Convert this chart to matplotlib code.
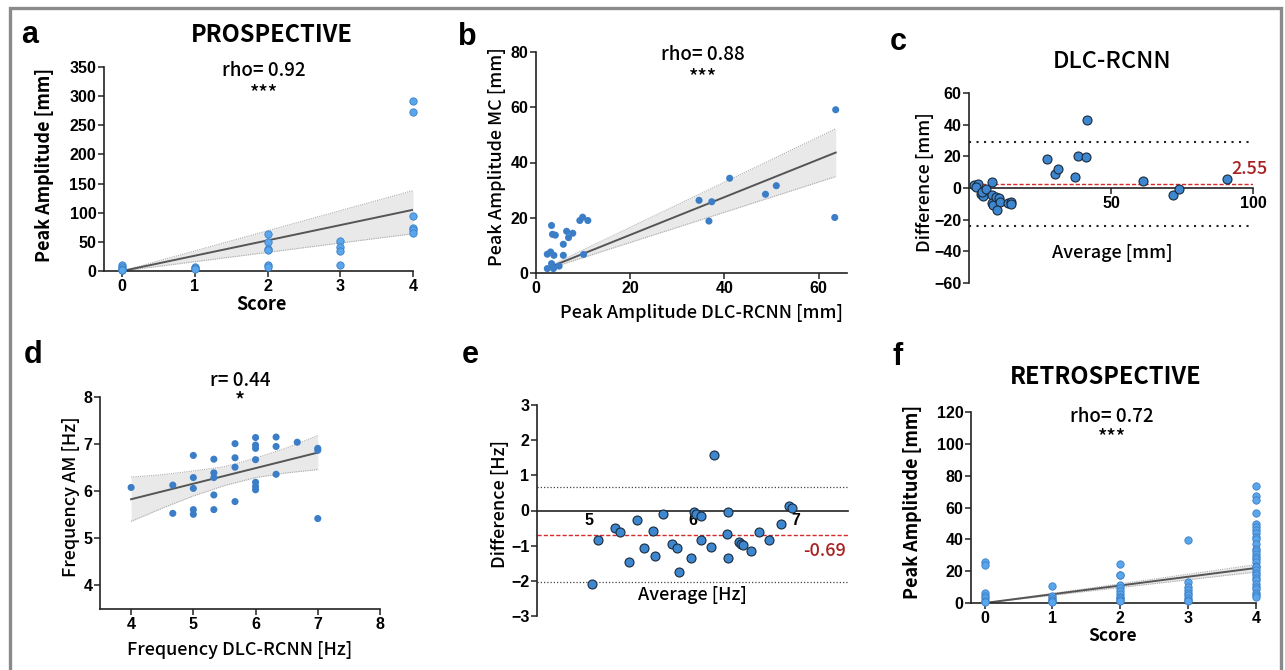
import numpy as np
import matplotlib
matplotlib.use('Agg')
import matplotlib.pyplot as plt
from matplotlib.patches import Rectangle

plt.rcParams['font.family'] = ['Noto Sans CJK JP', 'DejaVu Sans']

W, H = 1285, 670

# a: prospective, score vs peak amplitude
a_score = [0, 0, 0, 0, 0, 1, 1, 1, 2, 2, 2, 2, 2, 2, 3, 3, 3, 3, 4, 4, 4, 4, 4, 4]
a_amp = [10, 7, 4, 2, 1, 7, 5, 4, 63, 49, 37, 36, 10, 7, 51, 41, 35, 11, 292, 272, 94, 74, 70, 65]
a_fit_x = [0, 4]
a_fit_y = [0, 105]
a_lo = [0, 64]
a_hi = [0, 138]

# b: DLC-RCNN vs MC peak amplitude
b_dlc = [2.4, 2.4, 3.1, 3.3, 3.3, 3.5, 3.7, 3.8, 4.1, 4.9, 5.8, 5.8, 6.5, 6.9, 7.8, 9.3, 9.9,
         11.0, 10.1, 34.6, 36.7, 37.3, 41.1, 48.7, 51.0, 63.6, 63.4]
b_mc = [1.6, 6.8, 7.6, 17.2, 3.4, 14.0, 1.6, 6.4, 13.7, 2.5, 10.4, 6.4, 15.1, 12.8, 14.4, 19.0,
        20.2, 19.0, 6.7, 26.3, 18.8, 25.8, 34.3, 28.5, 31.6, 59.1, 20.1]
b_fit_x = [2.0, 63.6]
b_fit_y = [1.5, 43.6]
b_lo = [1.2, 34.9]
b_hi = [1.8, 52.2]

# c: Bland-Altman amplitude
c_avg = [1.8, 3.3, 2.6, 4.1, 4.9, 4.5, 5.9, 8.0, 8.0, 8.2, 8.5, 9.4, 10.6, 10.8, 9.8, 13.9, 14.8,
         14.8, 27.5, 30.2, 31.4, 37.4, 38.4, 41.2, 41.6, 61.3, 71.8, 74.1, 90.7]
c_diff = [2.1, 2.7, 0.4, -3.8, -4.9, -2.3, -0.6, 3.6, -4.4, -9.5, -10.5, -5.9, -6.3, -8.6, -13.9,
          -9.7, -8.6, -10.3, 18.1, 8.6, 11.8, 7.0, 20.5, 19.4, 43.2, 4.4, -4.4, -0.6, 5.7]
c_bias = 2.55
c_loa = [28.9, -24.0]

# d: frequency DLC-RCNN vs AM
d_dlc = [4.0, 4.67, 4.67, 5.0, 5.0, 5.0, 5.0, 5.0, 5.33, 5.33, 5.33, 5.33, 5.33, 5.67, 5.67, 5.67,
         5.67, 6.0, 6.0, 6.0, 6.0, 6.0, 6.0, 6.0, 6.33, 6.33, 6.33, 6.67, 7.0, 7.0, 7.0]
d_am = [6.08, 6.13, 5.53, 6.76, 6.29, 6.06, 5.61, 5.51, 6.68, 6.39, 6.29, 5.92, 5.61, 7.01, 6.71,
        6.51, 5.78, 7.14, 6.98, 6.91, 6.67, 6.19, 6.10, 6.03, 7.15, 6.95, 6.36, 7.04, 6.91, 6.87, 5.42]
d_fit_x = [4.0, 4.5, 5.0, 5.5, 6.0, 6.5, 7.0]
d_fit_y = [5.83, 5.995, 6.16, 6.325, 6.49, 6.655, 6.82]
d_lo = [5.36, 5.64, 5.90, 6.12, 6.29, 6.39, 6.46]
d_hi = [6.30, 6.35, 6.43, 6.52, 6.70, 6.92, 7.18]

# e: Bland-Altman frequency
e_avg = [5.03, 5.09, 5.25, 5.30, 5.39, 5.46, 5.53, 5.62, 5.64, 5.72, 5.80, 5.85, 5.87, 5.99, 6.01,
         6.03, 6.08, 6.08, 6.18, 6.21, 6.33, 6.34, 6.34, 6.45, 6.47, 6.49, 6.56, 6.64, 6.74, 6.85,
         6.93, 6.96]
e_diff = [-2.09, -0.85, -0.51, -0.61, -1.46, -0.27, -1.06, -0.59, -1.29, -0.10, -0.96, -1.06, -1.76,
          -1.35, -0.04, -0.09, -0.17, -0.84, -1.04, 1.58, -0.66, -0.03, -1.34, -0.90, -0.95, -0.99,
          -1.14, -0.62, -0.83, -0.37, 0.14, 0.08]
e_bias = -0.69
e_loa = [0.655, -2.03]

# f: retrospective, score vs peak amplitude
f_s0 = [26, 24, 6, 4.5, 3, 1.5, 0.5]
f_s1 = [10.5, 4.5, 3, 2, 1.3, 0.5]
f_s2 = [24.3, 17.8, 17.4, 11.5, 9.4, 7.6, 5.5, 3.8, 2.9, 2.1, 1.3]
f_s3 = [39.4, 13.2, 10.1, 8.0, 6.5, 4.8, 3.1, 2.1, 1.0]
f_s4 = [73.5, 67.5, 65, 56.5, 49.5, 48, 46, 44, 41.5, 40, 37, 34, 32.5, 31, 29, 27.5, 26, 23.5,
        22.5, 21, 19, 17.5, 16, 14.5, 12, 10, 9, 6, 5, 4]
f_fit_x = [0, 4]
f_fit_y = [0, 22.0]
f_lo = [0, 19.5]
f_hi = [0, 24.1]

fig = plt.figure(figsize=(W / 100, H / 100), dpi=100)

frame = Rectangle((10 / W, -0.2), (1281 - 10) / W, 1.2 - 8 / H, transform=fig.transFigure,
                  fill=False, edgecolor='#8a8a8a', lw=2.4)
fig.add_artist(frame)

LAB = 13        # axis label size
STAT = 13.5     # rho / r text size
TITLE = 17


def ax_at(l, r, t, b):
    ax = fig.add_axes([l / W, 1 - b / H, (r - l) / W, (b - t) / H])
    for s in ['top', 'right']:
        ax.spines[s].set_visible(False)
    for s in ['left', 'bottom']:
        ax.spines[s].set_linewidth(1.2)
        ax.spines[s].set_color('#222222')
    ax.tick_params(direction='out', length=4, width=1.1, color='#222222', pad=1.5)
    ax.patch.set_alpha(0)
    return ax


def fix_ticks(ax):
    for lab in ax.get_xticklabels() + ax.get_yticklabels():
        lab.set_fontfamily('Liberation Sans')
        lab.set_fontweight('bold')
        lab.set_fontsize(11.5)


def ftext(x, y, s, **kw):
    kw.setdefault('ha', 'center')
    kw.setdefault('va', 'center')
    fig.text(x / W, 1 - y / H, s, **kw)


def letter(x, y, s):
    ftext(x, y, s, family='Liberation Sans', weight='bold', size=22)


def band(ax, fx, fy, lo, hi):
    ax.fill_between(fx, lo, hi, color='#e9e9e9', lw=0, zorder=1)
    ax.plot(fx, lo, color='#aaaaaa', lw=0.8, ls=(0, (1, 1)), zorder=1.5)
    ax.plot(fx, hi, color='#aaaaaa', lw=0.8, ls=(0, (1, 1)), zorder=1.5)
    ax.plot(fx, fy, color='#555555', lw=1.4, zorder=2)


light = dict(s=28, color='#5aa6ec', edgecolor='#3c7fc6', linewidths=0.6, zorder=3, clip_on=False)
mid = dict(s=26, color='#3b7ec7', edgecolor='none', zorder=3, clip_on=False)
dark = dict(s=42, color='#3d86d0', edgecolor='#1b2a3a', linewidths=0.8, zorder=3, clip_on=False)

# ---- a
ax = ax_at(104, 413, 67, 271)
band(ax, a_fit_x, a_fit_y, a_lo, a_hi)
ax.scatter(a_score, a_amp, **light)
ax.set_xlim(-0.25, 4)
ax.set_ylim(0, 350)
ax.set_xticks([0, 1, 2, 3, 4])
ax.set_yticks(range(0, 351, 50))
fix_ticks(ax)
letter(30, 35, 'a')
ftext(272, 35, 'PROSPECTIVE', weight='bold', size=TITLE)
ftext(264, 70, 'rho= 0.92', weight='medium', size=STAT)
ftext(264, 93, '***', weight='medium', size=14)
ftext(44, 165, 'Peak Amplitude [mm]', weight='bold', size=LAB, rotation=90)
ftext(261, 304, 'Score', weight='bold', size=LAB)

# ---- b
ax = ax_at(536, 847, 52, 273)
band(ax, b_fit_x, b_fit_y, b_lo, b_hi)
ax.scatter(b_dlc, b_mc, **mid)
ax.set_xlim(0, 66)
ax.set_ylim(0, 80)
ax.set_xticks([0, 20, 40, 60])
ax.set_yticks([0, 20, 40, 60, 80])
fix_ticks(ax)
letter(467, 37, 'b')
ftext(703, 55, 'rho= 0.88', weight='medium', size=STAT)
ftext(703, 77, '***', weight='medium', size=14)
ftext(497, 157, 'Peak Amplitude MC [mm]', weight='medium', size=LAB, rotation=90)
ftext(702, 313, 'Peak Amplitude DLC-RCNN [mm]', weight='medium', size=LAB)

# ---- c
ax = ax_at(969, 1253, 93, 283)
ax.spines['bottom'].set_position(('data', 0))
for y in c_loa:
    ax.axhline(y, xmax=0.995, color='#222222', lw=1.5, ls=(0, (1, 2.6)), zorder=1)
ax.axhline(c_bias, color='#d42a2a', lw=1.0, ls=(0, (3, 1.5)), zorder=1)
ax.scatter(c_avg, c_diff, **dark)
ax.set_xlim(0, 100)
ax.set_ylim(-60, 60)
ax.set_xticks([50, 100])
ax.set_yticks(range(-60, 61, 20))
fix_ticks(ax)
ax.text(105, c_bias + 3.5, f'{c_bias:.2f}', color='#a82020', ha='right', va='bottom',
        size=LAB, weight='medium')
letter(898, 42, 'c')
ftext(1112, 62, 'DLC-RCNN', weight='medium', size=TITLE)
ftext(925, 182, 'Difference [mm]', weight='medium', size=LAB, rotation=90)
ftext(1112, 253, 'Average [mm]', weight='medium', size=LAB)

# ---- d
ax = ax_at(100, 380, 397, 609)
band(ax, d_fit_x, d_fit_y, d_lo, d_hi)
ax.scatter(d_dlc, d_am, **mid)
ax.set_xlim(3.5, 8)
ax.set_ylim(3.5, 8)
ax.set_xticks([4, 5, 6, 7, 8])
ax.set_yticks([4, 5, 6, 7, 8])
fix_ticks(ax)
letter(33, 355, 'd')
ftext(240, 380, 'r= 0.44', weight='medium', size=STAT)
ftext(240, 401, '*', weight='medium', size=15)
ftext(71, 497, 'Frequency AM [Hz]', weight='medium', size=LAB, rotation=90)
ftext(240, 650, 'Frequency DLC-RCNN [Hz]', weight='medium', size=LAB)

# ---- e
ax = ax_at(537, 848, 405, 616)
ax.spines['bottom'].set_position(('data', 0))
for y in e_loa:
    ax.axhline(y, color='#444444', lw=0.9, ls=(0, (1, 1.6)), zorder=1)
ax.axhline(e_bias, color='#d42a2a', lw=1.0, ls=(0, (3, 1.5)), zorder=1)
ax.scatter(e_avg, e_diff, **dark)
ax.set_xlim(4.5, 7.5)
ax.set_ylim(-3, 3)
ax.set_xticks([5, 6, 7])
ax.set_yticks(range(-3, 4))
ax.tick_params(axis='x', length=0)
fix_ticks(ax)
ax.text(7.48, e_bias - 0.2, f'{e_bias:.2f}', color='#a82020', ha='right', va='top',
        size=LAB, weight='medium')
letter(470, 355, 'e')
ftext(500, 504, 'Difference [Hz]', weight='medium', size=LAB, rotation=90)
ftext(692, 595, 'Average [Hz]', weight='medium', size=LAB)

# ---- f
ax = ax_at(971, 1256, 412, 603)
band(ax, f_fit_x, f_fit_y, f_lo, f_hi)
for k, vals in enumerate([f_s0, f_s1, f_s2, f_s3, f_s4]):
    ax.scatter([k] * len(vals), vals, **light)
ax.set_xlim(-0.2, 4)
ax.set_ylim(0, 120)
ax.set_xticks([0, 1, 2, 3, 4])
ax.set_yticks(range(0, 121, 20))
fix_ticks(ax)
letter(898, 357, 'f')
ftext(1106, 377, 'RETROSPECTIVE', weight='bold', size=TITLE)
ftext(1112, 417, 'rho= 0.72', weight='medium', size=STAT)
ftext(1112, 437, '***', weight='medium', size=14)
ftext(912, 502, 'Peak Amplitude [mm]', weight='bold', size=LAB, rotation=90)
ftext(1113, 636, 'Score', weight='bold', size=12.5)

fig.savefig('out.png', dpi=100)
